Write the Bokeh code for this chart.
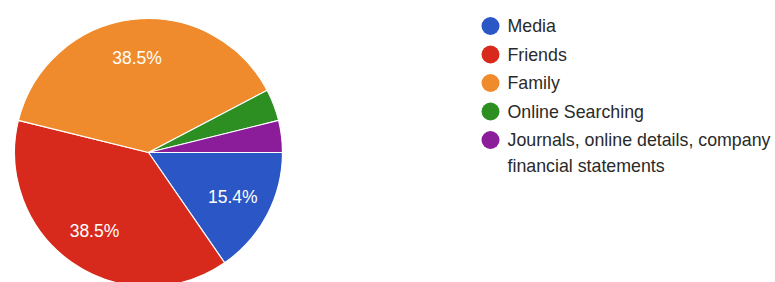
import math
from bokeh.plotting import figure
from bokeh.models import ColumnDataSource, Range1d
from bokeh.core.properties import value
from bokeh.embed import file_html
from bokeh.resources import INLINE

categories = ["Media", "Friends", "Family", "Online Searching",
              "Journals, online details, company financial statements"]
legend_lines = [["Media"], ["Friends"], ["Family"], ["Online Searching"],
                ["Journals, online details, company", "financial statements"]]
counts = [4, 10, 10, 1, 1]
colors = ["#2a56c6", "#d72a1c", "#ef8b2c", "#2d8f22", "#8b1d9a"]

W, H = 775, 282
p = figure(width=W, height=H, output_backend="svg", toolbar_location=None,
           x_range=Range1d(0, W), y_range=Range1d(0, H), min_border=0)
p.axis.visible = False
p.grid.visible = False
p.outline_line_color = None
p.background_fill_color = "white"

cx, cy, R = 148, 130, 134
total = sum(counts)
starts, ends, lx, ly, labels = [], [], [], [], []
cum = 0.0
for c in counts:
    a0 = cum / total * 2 * math.pi
    cum += c
    a1 = cum / total * 2 * math.pi
    # clockwise from 3 o'clock
    starts.append(-a1)
    ends.append(-a0)
    mid = -(a0 + a1) / 2
    lx.append(cx + 0.71 * R * math.cos(mid))
    ly.append(cy + 0.71 * R * math.sin(mid))
    labels.append(f"{c / total * 100:.1f}%" if c / total >= 0.05 else "")

src = ColumnDataSource(dict(start=starts, end=ends, color=colors,
                            lx=lx, ly=ly, label=labels))
p.wedge(x=cx, y=cy, radius=R, start_angle="start", end_angle="end",
        fill_color="color", line_color="white", line_width=1.2, source=src)
p.text(x="lx", y="ly", text="label", source=src, text_color="white",
       text_font=value("Liberation Sans"), text_font_size="17.5px",
       text_align="center", text_baseline="middle")

# legend
mx, tx, top, step, lstep = 490, 507, 256.5, 28.5, 26
mxs, mys, txs, tys, tt = [], [], [], [], []
for i, lines in enumerate(legend_lines):
    y = top - i * step
    mxs.append(mx); mys.append(y)
    for j, line in enumerate(lines):
        txs.append(tx); tys.append(y - j * lstep); tt.append(line)
p.scatter(x=mxs, y=mys, size=18, marker="circle", fill_color=colors, line_color=None)
p.text(x=txs, y=tys, text=tt, text_color="#2a2a2a",
       text_font=value("Liberation Sans"), text_font_size="17.8px",
       text_align="left", text_baseline="middle")

open("out.html", "w").write(file_html(p, INLINE))
